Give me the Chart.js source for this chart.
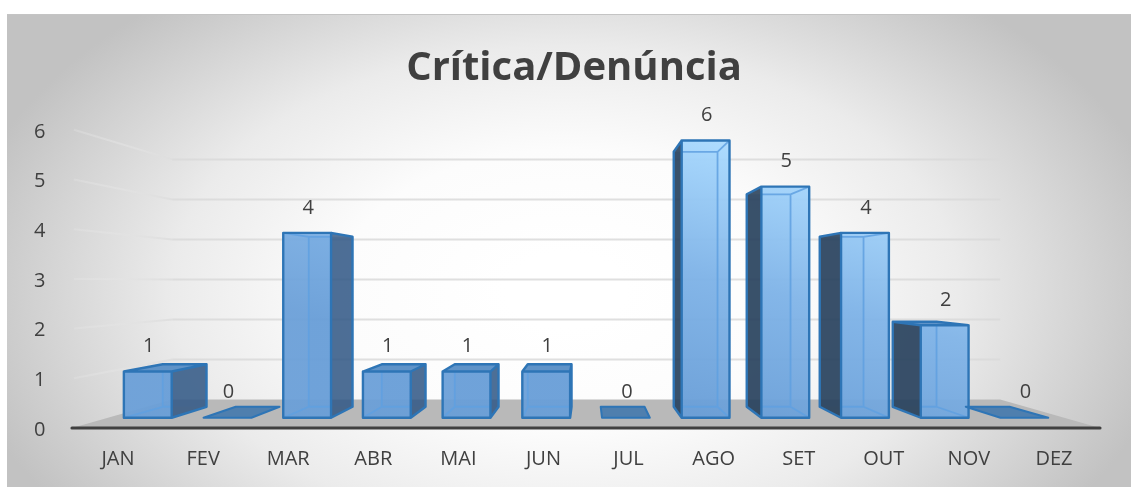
<!DOCTYPE html>
<html><head><meta charset="utf-8">
<style>html,body{margin:0;padding:0;background:#fff}canvas{display:block}</style>
<script src="https://cdn.jsdelivr.net/npm/chart.js@4"></script></head>
<body><div style="width:1131px;height:487px;position:relative"><canvas id="c"></canvas></div>
<script>
const titleText = 'Crítica/Denúncia';
const categories = ['JAN','FEV','MAR','ABR','MAI','JUN','JUL','AGO','SET','OUT','NOV','DEZ'];
const values = [1,0,4,1,1,1,0,6,5,4,2,0];
const tickLabels = [0,1,2,3,4,5,6];
const FONT = '"Open Sans"';
const VX = 587, VY = 281.6;
const proj = (x,y,d)=>[VX+(x-VX)*d.sx, VY+(y-VY)*d.sy];
const FRONT={sx:.9366,sy:.93}, BACK={sx:.858,sy:.855};
const WALL_F={sx:1.007,sy:1}, WALL_B={sx:.811,sy:.805};
function poly(ctx,pts,fill,stroke,lw){
  ctx.beginPath();pts.forEach((p,i)=>i?ctx.lineTo(p[0],p[1]):ctx.moveTo(p[0],p[1]));ctx.closePath();
  if(fill){ctx.fillStyle=fill;ctx.fill();}
  if(stroke){ctx.strokeStyle=stroke;ctx.lineWidth=lw;ctx.lineJoin='round';ctx.stroke();}
}
const scene={
  id:'scene',
  beforeDraw(chart){
    const {ctx,width,height,chartArea:a,scales:{y}}=chart;
    ctx.save();
    ctx.fillStyle='#fff';ctx.fillRect(0,0,width,height);
    ctx.save();
    ctx.beginPath();ctx.rect(7,14,1124,473);ctx.clip();
    ctx.translate(565,290);ctx.scale(1,.62);
    const g=ctx.createRadialGradient(0,0,60,0,0,615);
    g.addColorStop(0,'#ffffff');g.addColorStop(.3,'#fcfcfc');g.addColorStop(.6,'#ebebeb');g.addColorStop(1,'#c2c2c2');
    ctx.fillStyle=g;ctx.fillRect(-700,-700,1400,1400);
    ctx.restore();
    ctx.fillStyle='#c4c4c4';ctx.fillRect(7,14,1124,1);
    const base=y.getPixelForValue(0);
    y.ticks.forEach(t=>{
      const py=y.getPixelForValue(t.value);
      const L0=proj(a.left,py,WALL_F),L1=proj(a.left,py,WALL_B),R1=proj(a.right,py,WALL_B);
      if(t.value>0){
        const lg=ctx.createLinearGradient(L0[0],0,L1[0],0);
        lg.addColorStop(0,'rgba(232,232,232,.25)');lg.addColorStop(1,'rgba(222,222,222,.95)');
        ctx.strokeStyle=lg;ctx.lineWidth=2;
        ctx.beginPath();ctx.moveTo(L0[0]+2,L0[1]);ctx.lineTo(L1[0],L1[1]);ctx.stroke();
        ctx.strokeStyle='rgba(217,217,217,.85)';
        ctx.beginPath();ctx.moveTo(L1[0],L1[1]);ctx.lineTo(R1[0],R1[1]);ctx.stroke();
      }
    });
    poly(ctx,[proj(a.left,base,WALL_F),proj(a.left,base,WALL_B),proj(a.right,base,WALL_B),proj(a.right,base,WALL_F)],'#b9b9b9');
    const A=proj(a.left,base,WALL_F),B=proj(a.right,base,WALL_F);
    ctx.strokeStyle='#404040';ctx.lineWidth=3;ctx.lineCap='round';
    ctx.beginPath();ctx.moveTo(A[0],A[1]);ctx.lineTo(B[0],B[1]);ctx.stroke();
    ctx.restore();
  },
  afterDatasetsDraw(chart){
    const {ctx}=chart;
    const bars=chart.getDatasetMeta(0).data;
    const grad=ctx.createLinearGradient(720,140,654.6,401.6);
    grad.addColorStop(0,'#a9daff');grad.addColorStop(.5,'#80b4e8');grad.addColorStop(1,'#6a9fd8');
    ctx.save();
    bars.forEach((b,i)=>{
      const l=b.x-b.width/2,r=b.x+b.width/2,top=b.y,bot=b.base;
      const f=[proj(l,top,FRONT),proj(r,top,FRONT),proj(r,bot,FRONT),proj(l,bot,FRONT)];
      const k=[proj(l,top,BACK),proj(r,top,BACK),proj(r,bot,BACK),proj(l,bot,BACK)];
      if(values[i]===0){
        poly(ctx,[f[3],f[2],k[2],k[3]],'#4f7fae','#2e75b6',2);
      }else{
        const rightSide=f[1][0]<k[1][0], leftSide=k[0][0]<f[0][0], topSeen=k[0][1]<f[0][1];
        poly(ctx,k,'rgba(90,150,210,.35)');
        poly(ctx,[f[3],f[2],k[2],k[3]],'rgba(70,120,175,.22)');
        if(rightSide) poly(ctx,[f[1],k[1],k[2],f[2]],'rgba(48,84,128,.8)');
        if(leftSide) poly(ctx,[k[0],f[0],f[3],k[3]],'rgba(38,62,88,.88)');
        if(topSeen) poly(ctx,[f[0],f[1],k[1],k[0]],'#5f93c8');
        ctx.globalAlpha=.94;
        poly(ctx,f,grad);
        ctx.globalAlpha=1;
        ctx.save();
        ctx.beginPath();ctx.rect(f[0][0],f[0][1],f[1][0]-f[0][0],f[2][1]-f[1][1]);ctx.clip();
        ctx.strokeStyle='rgba(95,160,225,.85)';ctx.lineWidth=1.8;
        ctx.beginPath();
        ctx.moveTo(k[0][0],k[0][1]);ctx.lineTo(k[1][0],k[1][1]);
        ctx.lineTo(k[2][0],k[2][1]);ctx.lineTo(k[3][0],k[3][1]);ctx.closePath();
        ctx.moveTo(f[2][0],f[2][1]);ctx.lineTo(k[2][0],k[2][1]);
        ctx.moveTo(f[3][0],f[3][1]);ctx.lineTo(k[3][0],k[3][1]);
        ctx.moveTo(f[0][0],f[0][1]);ctx.lineTo(k[0][0],k[0][1]);
        ctx.moveTo(f[1][0],f[1][1]);ctx.lineTo(k[1][0],k[1][1]);
        ctx.stroke();
        ctx.restore();
        ctx.strokeStyle='#2e75b6';ctx.lineWidth=2.4;ctx.lineJoin='round';
        ctx.beginPath();
        ctx.moveTo(f[0][0],f[0][1]);ctx.lineTo(f[1][0],f[1][1]);ctx.lineTo(f[2][0],f[2][1]);ctx.lineTo(f[3][0],f[3][1]);ctx.closePath();
        if(topSeen){ctx.moveTo(f[0][0],f[0][1]);ctx.lineTo(k[0][0],k[0][1]);ctx.lineTo(k[1][0],k[1][1]);ctx.lineTo(f[1][0],f[1][1]);}
        if(rightSide){ctx.moveTo(f[1][0],f[1][1]);ctx.lineTo(k[1][0],k[1][1]);ctx.lineTo(k[2][0],k[2][1]);ctx.lineTo(f[2][0],f[2][1]);}
        if(leftSide){ctx.moveTo(f[0][0],f[0][1]);ctx.lineTo(k[0][0],k[0][1]);ctx.lineTo(k[3][0],k[3][1]);ctx.lineTo(f[3][0],f[3][1]);}
        ctx.stroke();
      }
      ctx.fillStyle='#404040';ctx.font='20px '+FONT;ctx.textAlign='center';ctx.textBaseline='middle';
      ctx.fillText(String(values[i]),(f[0][0]+f[1][0])/2+1,f[0][1]-25);
    });
    ctx.restore();
  }
};
new Chart(document.getElementById('c'),{
  type:'bar',
  data:{labels:categories,datasets:[{data:values,backgroundColor:'rgba(0,0,0,0)',borderWidth:0,barPercentage:.6,categoryPercentage:1}]},
  plugins:[scene],
  options:{
    responsive:true,maintainAspectRatio:false,animation:false,
    layout:{padding:{left:17,right:0,top:0,bottom:0}},
    plugins:{legend:{display:false},tooltip:{enabled:false},
      title:{display:true,text:titleText,color:'#404040',font:{family:FONT,size:40,weight:'bold'},padding:{top:45,bottom:36.8}}},
    scales:{
      x:{grid:{display:false},border:{display:false},
        ticks:{color:'#404040',font:{family:FONT,size:20},padding:11,maxRotation:0,autoSkip:false},
        afterFit(s){s.height=59;}},
      y:{min:0,max:6,grid:{display:false},border:{display:false},
        afterBuildTicks(s){s.ticks=tickLabels.map(v=>({value:v}));},
        ticks:{color:'#404040',font:{family:FONT,size:20},padding:22,labelOffset:2},
        afterFit(s){s.width=58.5;}},
      rightGap:{position:'right',grid:{display:false},border:{display:false},ticks:{display:false},
        afterFit(s){s.width=34.5;}}
    }
  }
});
</script></body></html>
